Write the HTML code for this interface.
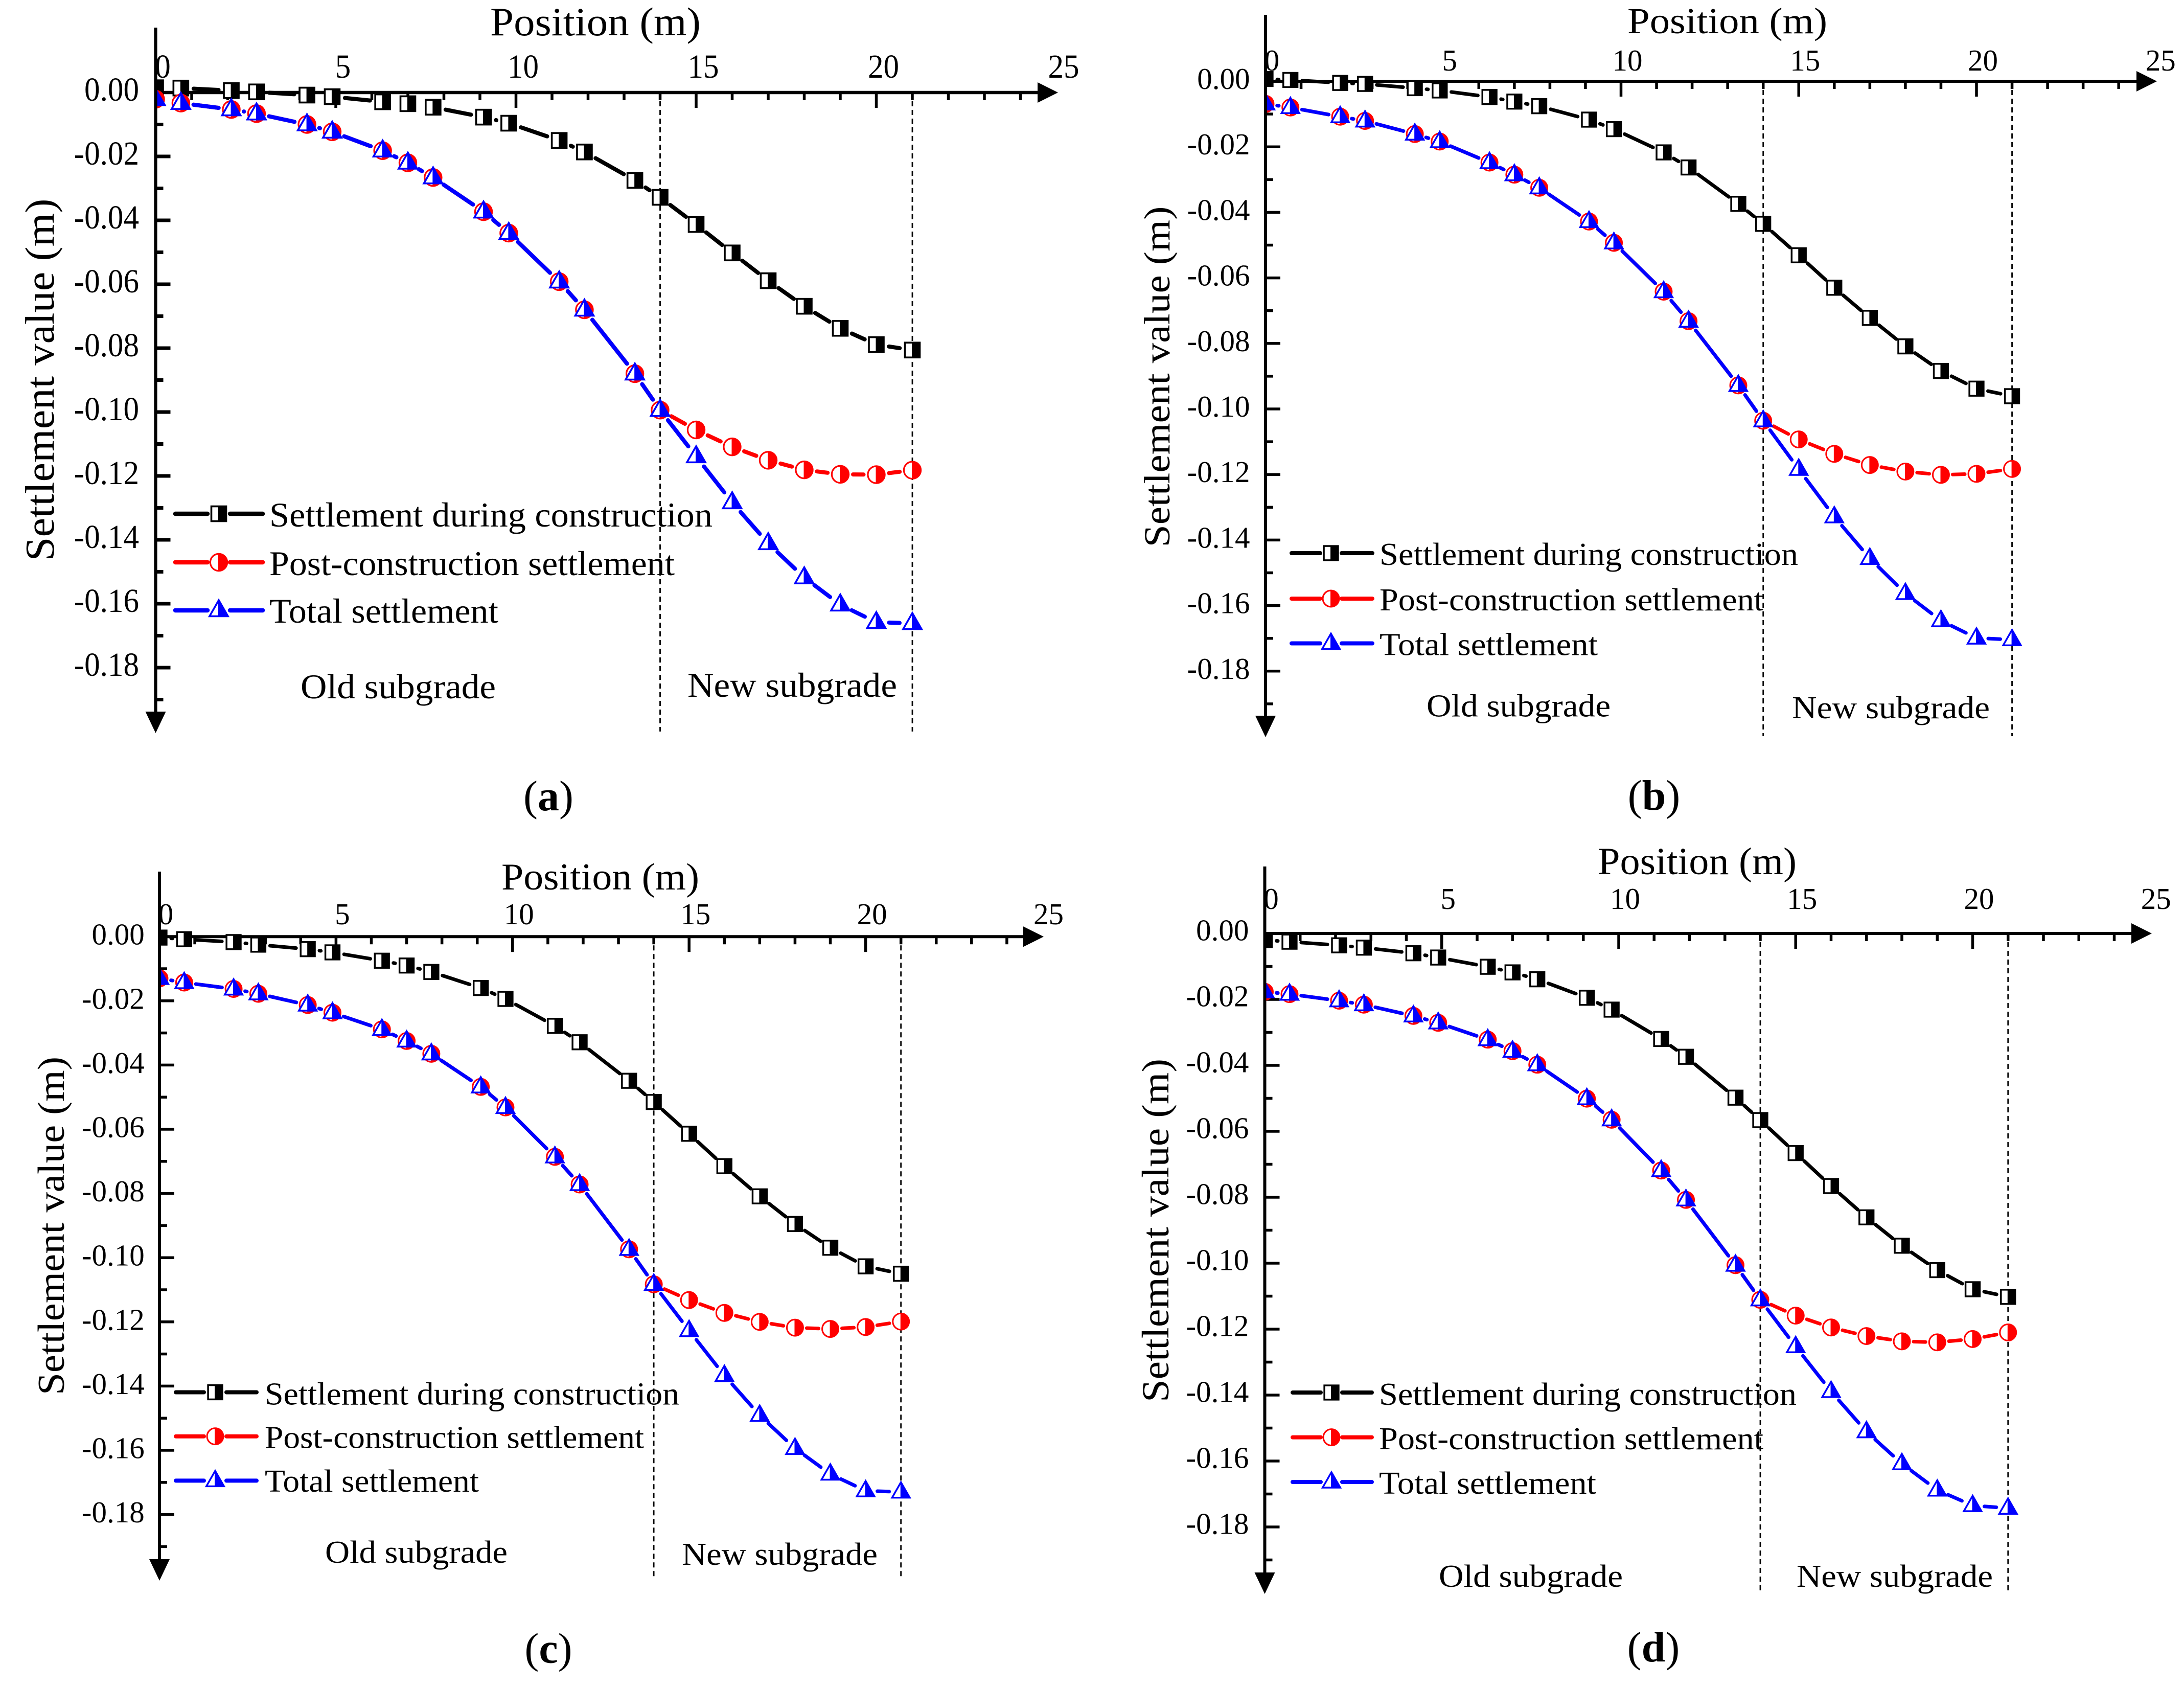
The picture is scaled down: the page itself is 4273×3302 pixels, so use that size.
<!DOCTYPE html>
<html lang="en">
<head>
<meta charset="utf-8">
<title>Settlement value versus position</title>
<style>
html,body{margin:0;padding:0;background:#fff;}
svg{display:block;}
text{font-family:"Liberation Serif",serif;fill:#000;}
</style>
</head>
<body>
<svg id="figure" xmlns="http://www.w3.org/2000/svg" width="4273" height="3302" viewBox="0 0 4273 3302">
<defs>
<g id="marker-square">
<rect x="-14.5" y="-14.5" width="29" height="29" fill="#fff" stroke="#000" stroke-width="3.6"/>
<rect x="-1" y="-14.5" width="15.5" height="29" fill="#000"/>
</g>
<g id="marker-circle">
<circle r="16.6" fill="#fff" stroke="#f00" stroke-width="3.2"/>
<path d="M-1,-16.6 A16.6,16.6 0 0 1 -1,16.6 Z" fill="#f00"/>
</g>
<g id="marker-triangle">
<polygon points="0,-20 18,11.5 -18,11.5" fill="#fff" stroke="#00f" stroke-width="3.6" stroke-linejoin="miter"/>
<polygon points="-1,-20 18,11.5 -1,11.5" fill="#00f"/>
</g>
</defs>
<rect width="4273" height="3302" fill="#fff"/>

<g>
<g id="plot-a"></g>
<text x="959" y="69" font-size="78" textLength="412" lengthAdjust="spacingAndGlyphs">Position (m)</text>
<text transform="translate(105,743) rotate(-90)" text-anchor="middle" font-size="80" textLength="709" lengthAdjust="spacingAndGlyphs">Settlement value (m)</text>
<g>
<g>
<path d="M343,1005H406M450,1005H514" stroke="#000" stroke-width="8.5" stroke-linecap="round" fill="none"/>
<use href="#marker-square" transform="translate(428,1005)"/>
<text x="527" y="1030" font-size="68" textLength="867" lengthAdjust="spacingAndGlyphs">Settlement during construction</text>
</g>
<g>
<path d="M343,1100H406M450,1100H514" stroke="#f00" stroke-width="8.5" stroke-linecap="round" fill="none"/>
<use href="#marker-circle" transform="translate(428,1100)"/>
<text x="527" y="1125" font-size="68" textLength="793" lengthAdjust="spacingAndGlyphs">Post-construction settlement</text>
</g>
<g>
<path d="M343,1194H406M450,1194H514" stroke="#00f" stroke-width="8.5" stroke-linecap="round" fill="none"/>
<use href="#marker-triangle" transform="translate(428,1194)"/>
<text x="527" y="1218" font-size="68" textLength="448" lengthAdjust="spacingAndGlyphs">Total settlement</text>
</g>
</g>
<text x="588" y="1366" font-size="68" textLength="382" lengthAdjust="spacingAndGlyphs">Old subgrade</text>
<text x="1345" y="1363" font-size="68" textLength="410" lengthAdjust="spacingAndGlyphs">New subgrade</text>
<text x="1073" y="1585" font-size="84" text-anchor="middle">(<tspan font-weight="bold">a</tspan>)</text>
</g>

<g>
<g id="plot-b"></g>
<text x="3184" y="65" font-size="72" textLength="391" lengthAdjust="spacingAndGlyphs">Position (m)</text>
<text transform="translate(2288,737) rotate(-90)" text-anchor="middle" font-size="72" textLength="667" lengthAdjust="spacingAndGlyphs">Settlement value (m)</text>
<g>
<g>
<path d="M2527,1082H2583M2625,1082H2685" stroke="#000" stroke-width="8" stroke-linecap="round" fill="none"/>
<use href="#marker-square" transform="translate(2604,1082) scale(.96)"/>
<text x="2699" y="1105" font-size="62" textLength="819" lengthAdjust="spacingAndGlyphs">Settlement during construction</text>
</g>
<g>
<path d="M2527,1171H2583M2625,1171H2685" stroke="#f00" stroke-width="8" stroke-linecap="round" fill="none"/>
<use href="#marker-circle" transform="translate(2604,1171) scale(.96)"/>
<text x="2699" y="1194" font-size="62" textLength="751" lengthAdjust="spacingAndGlyphs">Post-construction settlement</text>
</g>
<g>
<path d="M2527,1258.5H2583M2625,1258.5H2685" stroke="#00f" stroke-width="8" stroke-linecap="round" fill="none"/>
<use href="#marker-triangle" transform="translate(2604,1258.5) scale(.96)"/>
<text x="2699" y="1281.5" font-size="62" textLength="427" lengthAdjust="spacingAndGlyphs">Total settlement</text>
</g>
</g>
<text x="2791" y="1401.5" font-size="62" textLength="360" lengthAdjust="spacingAndGlyphs">Old subgrade</text>
<text x="3506" y="1405" font-size="62" textLength="387" lengthAdjust="spacingAndGlyphs">New subgrade</text>
<text x="3236" y="1584" font-size="84" text-anchor="middle">(<tspan font-weight="bold">b</tspan>)</text>
</g>

<g>
<g id="plot-c"></g>
<text x="981" y="1740" font-size="74" textLength="387" lengthAdjust="spacingAndGlyphs">Position (m)</text>
<text transform="translate(125,2398) rotate(-90)" text-anchor="middle" font-size="74" textLength="662" lengthAdjust="spacingAndGlyphs">Settlement value (m)</text>
<g>
<g>
<path d="M344,2723.5H399M443,2723.5H502" stroke="#000" stroke-width="8" stroke-linecap="round" fill="none"/>
<use href="#marker-square" transform="translate(421,2723.5) scale(.96)"/>
<text x="518" y="2747.5" font-size="62" textLength="811" lengthAdjust="spacingAndGlyphs">Settlement during construction</text>
</g>
<g>
<path d="M344,2809.7H399M443,2809.7H502" stroke="#f00" stroke-width="8" stroke-linecap="round" fill="none"/>
<use href="#marker-circle" transform="translate(421,2809.7) scale(.96)"/>
<text x="518" y="2832.7" font-size="62" textLength="742" lengthAdjust="spacingAndGlyphs">Post-construction settlement</text>
</g>
<g>
<path d="M344,2896.4H399M443,2896.4H502" stroke="#00f" stroke-width="8" stroke-linecap="round" fill="none"/>
<use href="#marker-triangle" transform="translate(421,2896.4) scale(.96)"/>
<text x="518" y="2918" font-size="62" textLength="419" lengthAdjust="spacingAndGlyphs">Total settlement</text>
</g>
</g>
<text x="636" y="3057" font-size="62" textLength="357" lengthAdjust="spacingAndGlyphs">Old subgrade</text>
<text x="1334" y="3061" font-size="62" textLength="383" lengthAdjust="spacingAndGlyphs">New subgrade</text>
<text x="1073" y="3252.5" font-size="84" text-anchor="middle">(<tspan font-weight="bold">c</tspan>)</text>
</g>

<g>
<g id="plot-d"></g>
<text x="3126" y="1710" font-size="75" textLength="389" lengthAdjust="spacingAndGlyphs">Position (m)</text>
<text transform="translate(2286,2407) rotate(-90)" text-anchor="middle" font-size="75" textLength="672" lengthAdjust="spacingAndGlyphs">Settlement value (m)</text>
<g>
<g>
<path d="M2529,2724H2584M2626,2724H2684" stroke="#000" stroke-width="8" stroke-linecap="round" fill="none"/>
<use href="#marker-square" transform="translate(2605,2724) scale(.96)"/>
<text x="2698" y="2748" font-size="62" textLength="817" lengthAdjust="spacingAndGlyphs">Settlement during construction</text>
</g>
<g>
<path d="M2529,2811.6H2584M2626,2811.6H2684" stroke="#f00" stroke-width="8" stroke-linecap="round" fill="none"/>
<use href="#marker-circle" transform="translate(2605,2811.6) scale(.96)"/>
<text x="2698" y="2835" font-size="62" textLength="752" lengthAdjust="spacingAndGlyphs">Post-construction settlement</text>
</g>
<g>
<path d="M2529,2899H2584M2626,2899H2684" stroke="#00f" stroke-width="8" stroke-linecap="round" fill="none"/>
<use href="#marker-triangle" transform="translate(2605,2899) scale(.96)"/>
<text x="2698" y="2922" font-size="62" textLength="425" lengthAdjust="spacingAndGlyphs">Total settlement</text>
</g>
</g>
<text x="2815" y="3104" font-size="62" textLength="360" lengthAdjust="spacingAndGlyphs">Old subgrade</text>
<text x="3515" y="3104" font-size="62" textLength="384" lengthAdjust="spacingAndGlyphs">New subgrade</text>
<text x="3235" y="3250" font-size="84" text-anchor="middle">(<tspan font-weight="bold">d</tspan>)</text>
</g>
</svg>

<script>
const positions = [0,0.7,2.1,2.8,4.2,4.9,6.3,7,7.7,9.1,9.8,11.2,11.9,13.3,14,15,16,17,18,19,20,21];
const boundaryPositions = [14,21];
const xMajorTicks = [0,5,10,15,20];
const xMinorTicks = [1,2,3,4,6,7,8,9,11,12,13,14,16,17,18,19,21,22,23,24];
const xTickLabels = [0,5,10,15,20,25];
const yMajorTicks = [-0.02,-0.04,-0.06,-0.08,-0.10,-0.12,-0.14,-0.16,-0.18];
const yMinorTicks = [-0.01,-0.03,-0.05,-0.07,-0.09,-0.11,-0.13,-0.15,-0.17,-0.19];
const yTickLabels = ['0.00','-0.02','-0.04','-0.06','-0.08','-0.10','-0.12','-0.14','-0.16','-0.18'];
const yTickLabelValues = [0,-0.02,-0.04,-0.06,-0.08,-0.10,-0.12,-0.14,-0.16,-0.18];

const duringA = [0.0015,0.0014,0.0006,0.0002,-0.0008,-0.0013,-0.0029,-0.0035,-0.0046,-0.0077,-0.0096,-0.015,-0.0186,-0.0275,-0.0328,-0.0413,-0.0502,-0.0589,-0.0669,-0.0738,-0.0789,-0.0806];
const postA = [-0.0021,-0.0033,-0.0053,-0.0066,-0.01,-0.0123,-0.0182,-0.022,-0.0266,-0.0373,-0.044,-0.0592,-0.068,-0.088,-0.0994,-0.1056,-0.1109,-0.1151,-0.1181,-0.1195,-0.1196,-0.1182];
const totalA = [-0.0021,-0.0033,-0.0053,-0.0066,-0.01,-0.0123,-0.0182,-0.022,-0.0266,-0.0373,-0.044,-0.0592,-0.068,-0.088,-0.0994,-0.1139,-0.1283,-0.1411,-0.1518,-0.1603,-0.1658,-0.1661];

const duringB = [0.0007,0.0004,-0.0005,-0.0008,-0.0021,-0.0028,-0.0048,-0.0062,-0.0076,-0.0117,-0.0146,-0.0217,-0.0263,-0.0374,-0.0435,-0.0531,-0.063,-0.0722,-0.0809,-0.0884,-0.0938,-0.0961];
const postB = [-0.0069,-0.008,-0.0108,-0.0121,-0.0161,-0.0184,-0.0248,-0.0285,-0.0325,-0.0428,-0.0493,-0.0642,-0.0732,-0.0928,-0.1036,-0.1093,-0.1137,-0.1171,-0.1191,-0.1201,-0.1198,-0.1183];
const totalB = [-0.0069,-0.008,-0.0108,-0.0121,-0.0161,-0.0184,-0.0248,-0.0285,-0.0325,-0.0428,-0.0493,-0.0642,-0.0732,-0.0928,-0.1036,-0.1184,-0.1329,-0.1456,-0.1563,-0.1646,-0.1699,-0.1704];

const duringC = [-0.0003,-0.0008,-0.0017,-0.0025,-0.0039,-0.0049,-0.0075,-0.009,-0.011,-0.016,-0.0194,-0.0278,-0.0329,-0.0449,-0.0515,-0.0614,-0.0715,-0.0809,-0.0895,-0.0969,-0.1027,-0.105];
const postC = [-0.013,-0.0143,-0.0163,-0.0178,-0.0213,-0.0237,-0.0289,-0.0325,-0.0365,-0.0468,-0.0532,-0.0686,-0.0772,-0.0974,-0.1083,-0.1132,-0.1172,-0.12,-0.1218,-0.1222,-0.1216,-0.1199];
const totalC = [-0.013,-0.0143,-0.0163,-0.0178,-0.0213,-0.0237,-0.0289,-0.0325,-0.0365,-0.0468,-0.0532,-0.0686,-0.0772,-0.0974,-0.1083,-0.1227,-0.1367,-0.1491,-0.1594,-0.1674,-0.1726,-0.173];

const duringD = [-0.002,-0.0025,-0.0036,-0.0043,-0.006,-0.0073,-0.0101,-0.0118,-0.0139,-0.0195,-0.0231,-0.032,-0.0374,-0.0498,-0.0566,-0.0666,-0.0766,-0.0861,-0.0947,-0.1021,-0.1079,-0.1102];
const postD = [-0.0177,-0.0184,-0.0204,-0.0216,-0.025,-0.0271,-0.0322,-0.0357,-0.0398,-0.0501,-0.0565,-0.0719,-0.0808,-0.1006,-0.1111,-0.1159,-0.1195,-0.1221,-0.1237,-0.124,-0.123,-0.121];
const totalD = [-0.0177,-0.0184,-0.0204,-0.0216,-0.025,-0.0271,-0.0322,-0.0357,-0.0398,-0.0501,-0.0565,-0.0719,-0.0808,-0.1006,-0.1111,-0.1253,-0.1389,-0.1511,-0.1608,-0.1688,-0.1735,-0.1743];

const SVGNS = 'http://www.w3.org/2000/svg';

function create(tag, parent, attrs) {
  const el = document.createElementNS(SVGNS, tag);
  for (const k in attrs) el.setAttribute(k, attrs[k]);
  parent.appendChild(el);
  return el;
}

function drawPanel(p) {
  const root = document.getElementById('plot-' + p.key);
  const xs = v => p.x0 + v * p.ux;
  const ys = v => p.y0 - v / 0.02 * p.uy;

  /* dashed boundaries */
  boundaryPositions.forEach(v => {
    const dash = create('line', root, {x1: xs(v), x2: xs(v), y1: p.y0, y2: p.dashEnd, stroke: '#000', 'stroke-width': 2.8, 'stroke-dasharray': '10 7'});
    
    
  });

  /* x axis */
  const xAxis = create('line', root, {x1: p.x0, x2: p.xTip - 30, y1: p.y0, y2: p.y0, stroke: '#000', 'stroke-width': p.xAxisW});
  
  
  const xArrow = create('polygon', root, {points: (p.xTip - 40) + ',' + (p.y0 - 20) + ' ' + p.xTip + ',' + p.y0 + ' ' + (p.xTip - 40) + ',' + (p.y0 + 20), fill: '#000'});
  
  

  xMajorTicks.forEach(v => {
    const tick = create('line', root, {x1: xs(v), x2: xs(v), y1: p.y0, y2: p.y0 + 30, stroke: '#000', 'stroke-width': p.xTickW});
    
    
  });
  xMinorTicks.forEach(v => {
    const tick = create('line', root, {x1: xs(v), x2: xs(v), y1: p.y0, y2: p.y0 + 15, stroke: '#000', 'stroke-width': p.xTickW});
    
    
  });
  xTickLabels.forEach(v => {
    const label = create('text', root, {transform: 'translate(' + (xs(v) + p.xLabelOff) + ',' + p.xLabelY + ') scale(' + p.tickSx + ',1)', 'text-anchor': 'middle', 'font-size': p.tickFont});
    label.textContent = String(v);
    
    
  });

  /* y axis ticks and labels */
  yMajorTicks.forEach(v => {
    const tick = create('line', root, {x1: p.x0, x2: p.x0 + 29, y1: ys(v), y2: ys(v), stroke: '#000', 'stroke-width': p.yTickW});
    
    
  });
  yMinorTicks.forEach(v => {
    const tick = create('line', root, {x1: p.x0, x2: p.x0 + 15, y1: ys(v), y2: ys(v), stroke: '#000', 'stroke-width': p.yTickW});
    
    
  });
  yTickLabels.forEach((text, i) => {
    const label = create('text', root, {transform: 'translate(' + p.yLabelX + ',' + (ys(yTickLabelValues[i]) + p.yLabelOff) + ') scale(' + p.tickSx + ',1)', 'text-anchor': 'end', 'font-size': p.tickFont});
    label.textContent = text;
    
    
  });

  /* series */
  const clip = create('clipPath', root, {id: 'clip-' + p.key});
  create('rect', clip, {x: p.x0, y: 0, width: 2200, height: 3302});

  p.series.forEach(s => {
    const group = create('g', root, {'clip-path': 'url(#clip-' + p.key + ')'});
    
    
    for (let i = 0; i + 1 < positions.length; i++) {
      const ax = xs(positions[i]), ay = ys(s.values[i]);
      const bx = xs(positions[i + 1]), by = ys(s.values[i + 1]);
      const dist = Math.hypot(bx - ax, by - ay);
      if (dist - 2 * p.trim <= 0) continue;
      const ux = (bx - ax) / dist, uy = (by - ay) / dist;
      const seg = create('line', group, {x1: ax + ux * p.trim, y1: ay + uy * p.trim, x2: bx - ux * p.trim, y2: by - uy * p.trim, stroke: s.color, 'stroke-width': p.lineW, 'stroke-linecap': 'round'});
      
      
    }
    positions.forEach((pos, i) => {
      const mark = create('use', group, {href: '#marker-' + s.marker, transform: 'translate(' + xs(pos) + ',' + ys(s.values[i]) + ') scale(' + p.markScale + ')'});
      
      
    });
  });

  /* y axis on top of clipped markers */
  const yAxis = create('line', root, {x1: p.x0, x2: p.x0, y1: p.yTop, y2: p.yTip - 30, stroke: '#000', 'stroke-width': p.yAxisW});
  
  
  const yArrow = create('polygon', root, {points: (p.x0 - 20) + ',' + (p.yTip - 42) + ' ' + p.x0 + ',' + p.yTip + ' ' + (p.x0 + 20) + ',' + (p.yTip - 42), fill: '#000'});
  
  
}

function seriesOf(during, post, total) {
  return [
    {name: 'settlement-during-construction', color: '#000', marker: 'square', values: during},
    {name: 'post-construction-settlement', color: '#f00', marker: 'circle', values: post},
    {name: 'total-settlement', color: '#00f', marker: 'triangle', values: total}
  ];
}

drawPanel({key: 'a', x0: 304.5, ux: 70.5, y0: 181, uy: 125, yTop: 54, yTip: 1434, xTip: 2070, dashEnd: 1431, xAxisW: 6.6, yAxisW: 6.2, xTickW: 5.5, yTickW: 7, lineW: 8, trim: 25, markScale: 1, tickFont: 66, tickSx: 0.926, xLabelOff: 14, xLabelY: 152, yLabelX: 272, yLabelOff: 16, series: seriesOf(duringA, postA, totalA)});
drawPanel({key: 'b', x0: 2476, ux: 69.55, y0: 159, uy: 128.2, yTop: 29, yTip: 1442, xTip: 4220, dashEnd: 1440, xAxisW: 6, yAxisW: 6, xTickW: 5.5, yTickW: 5.5, lineW: 7, trim: 23, markScale: 0.96, tickFont: 59, tickSx: 1, xLabelOff: 12.5, xLabelY: 138, yLabelX: 2445.5, yLabelOff: 15, series: seriesOf(duringB, postB, totalB)});
drawPanel({key: 'c', x0: 312, ux: 69.08, y0: 1832.2, uy: 125.6, yTop: 1705, yTip: 3092, xTip: 2042, dashEnd: 3089, xAxisW: 6, yAxisW: 6, xTickW: 5.5, yTickW: 5.5, lineW: 7, trim: 23, markScale: 0.96, tickFont: 59, tickSx: 1, xLabelOff: 12.5, xLabelY: 1808, yLabelX: 282.7, yLabelOff: 15.5, series: seriesOf(duringC, postC, totalC)});
drawPanel({key: 'd', x0: 2474.5, ux: 69.25, y0: 1826, uy: 129, yTop: 1695, yTip: 3118, xTip: 4210, dashEnd: 3115, xAxisW: 6, yAxisW: 6, xTickW: 5.5, yTickW: 5.5, lineW: 7, trim: 23, markScale: 0.96, tickFont: 59, tickSx: 1, xLabelOff: 12.5, xLabelY: 1778, yLabelX: 2443.4, yLabelOff: 13.5, series: seriesOf(duringD, postD, totalD)});
</script>
</body>
</html>
